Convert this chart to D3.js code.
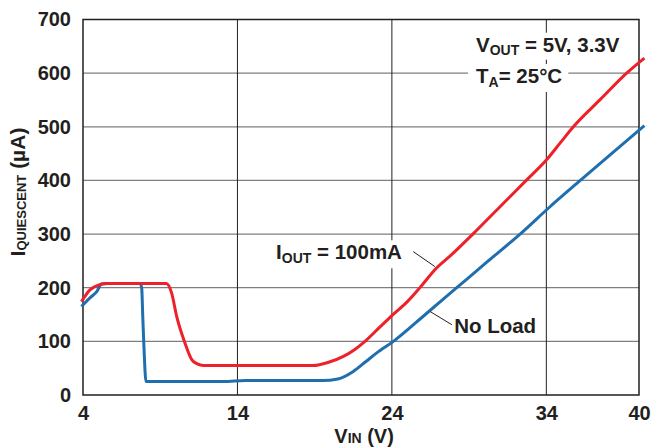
<!DOCTYPE html>
<meta charset="utf-8">
<head>
<title>Quiescent current vs VIN</title>
</head>
<style>
body { margin: 0; background: #fff; }
text { font-family: Arial, "Liberation Sans", sans-serif; font-weight: bold; fill: #231f20; }
.hgrid line { stroke: #7f7f7f; stroke-width: 1.2; }
.vgrid line { stroke: #231f20; stroke-width: 1; }
.frame { fill: none; stroke: #231f20; stroke-width: 1.5; }
.curve { fill: none; stroke-width: 3; stroke-linejoin: round; }
.leader { stroke: #231f20; stroke-width: 1; }
</style>
<body>
<svg id="chart"></svg>
<script src="https://cdnjs.cloudflare.com/ajax/libs/d3/7.8.5/d3.min.js"></script>
<script>
const width = 652, height = 447;
const margin = {top: 19.5, right: 13, bottom: 52, left: 83};

// x ticks and y ticks as printed
var xTicks = [4, 14, 24, 34, 40];
var yTicks = [0, 100, 200, 300, 400, 500, 600, 700];

// I_OUT = 100mA curve  [VIN, uA]
var load100 = [
	[3.9,174],[4.45,196],[5.1,206],[5.5,208],[9.4,208],[9.74,190],[10.07,146],
	[10.6,97],[11.04,66],[11.4,58],[11.8,55],[18.9,55],[19.9,61],[20.86,72],
	[21.6,85],[22.26,100],[23.2,126],[24.0,148],[25.0,174],[25.87,202],[26.8,234],
	[27.88,262],[29.24,300],[31.0,351],[32.7,400],[34.0,438],[34.9,470],
	[35.75,500],[37.5,551],[39.2,600],[40.35,628]
];
// no load curve
var noLoad = [
	[3.9,165],[4.45,181],[4.9,193],[5.2,207],[5.6,208],[7.69,208],[7.8,200],
	[7.87,146],[7.95,87],[8.08,25],[13.1,25],[14.5,27],[19.5,27],[20.5,30],
	[21.5,44],[22.3,62],[23.0,78],[24.1,100],[26.2,151],[28.2,200],[30.2,249],
	[32.3,300],[34.2,350],[36.2,400],[38.3,452],[40.35,502]
];

var svg = d3.select("#chart").attr("width", width).attr("height", height);

var x = d3.scaleLinear().domain([4, 40]).range([margin.left, width - margin.right]);
var y = d3.scaleLinear().domain([0, 700]).range([height - margin.bottom, margin.top]);

//////////////////////////////////////////////////
// Grid
//////////////////////////////////////////////////
svg.append("g").attr("class", "hgrid")
	.selectAll("line").data(yTicks.slice(1, -1)).enter()
	.append("line")
	.attr("x1", x(4)).attr("x2", x(40))
	.attr("y1", d => y(d)).attr("y2", d => y(d));

svg.append("g").attr("class", "vgrid")
	.selectAll("line").data(xTicks.slice(1, -1)).enter()
	.append("line")
	.attr("x1", d => x(d)).attr("x2", d => x(d))
	.attr("y1", y(0)).attr("y2", y(700));

svg.append("rect").attr("class", "frame")
	.attr("x", x(4)).attr("y", y(700))
	.attr("width", x(40) - x(4)).attr("height", y(0) - y(700));

//////////////////////////////////////////////////
// Axes labels
//////////////////////////////////////////////////
var yAxis = d3.axisLeft(y).tickValues(yTicks).tickSize(0).tickPadding(12);
svg.append("g").attr("transform", "translate(" + x(4) + ",0)").call(yAxis)
	.call(g => g.select(".domain").remove())
	.selectAll("text").attr("font-size", 20).attr("font-family", null).attr("fill", null);

var xAxis = d3.axisBottom(x).tickValues(xTicks).tickSize(0).tickPadding(11);
svg.append("g").attr("transform", "translate(0," + y(0) + ")").call(xAxis)
	.call(g => g.select(".domain").remove())
	.selectAll("text").attr("font-size", 20).attr("font-family", null).attr("fill", null);

// x title
var xt = svg.append("text").attr("text-anchor", "middle")
	.attr("x", x(22.2)).attr("y", height - 4).attr("font-size", 20);
xt.append("tspan").text("V");
xt.append("tspan").attr("font-size", 14).text("IN");
xt.append("tspan").text(" (V)");

// y title
var yt = svg.append("text").attr("text-anchor", "middle")
	.attr("transform", "translate(25," + 192 + ") rotate(-90)").attr("font-size", 21);
yt.append("tspan").text("I");
yt.append("tspan").attr("font-size", 13).attr("dy", 1).text("QUIESCENT");
yt.append("tspan").attr("dy", -1).text(" (µA)");

//////////////////////////////////////////////////
// Curves
//////////////////////////////////////////////////
var line = d3.line().x(d => x(d[0])).y(d => y(d[1])).curve(d3.curveMonotoneX);

svg.append("path").attr("class", "curve").attr("stroke", "#1f6fae").attr("d", line(noLoad));
svg.append("path").attr("class", "curve").attr("stroke", "#ee2029").attr("d", line(load100));

//////////////////////////////////////////////////
// Annotations
//////////////////////////////////////////////////
function label(vx, vy, parts) {
	var t = svg.append("text").attr("x", x(vx)).attr("y", y(vy)).attr("font-size", 20.5);
	parts.forEach(function(p) {
		var s = t.append("tspan").text(p[0]);
		if (p[1]) s.attr("font-size", 14).attr("dy", p[1]);
		if (p[2]) s.attr("dy", p[2]);
	});
	var b = t.node().getBBox();
	svg.insert("rect", "path")
		.attr("x", b.x - 8).attr("y", b.y).attr("width", b.width + 14).attr("height", b.height + 2)
		.attr("fill", "#fff");
	return t;
}

label(29.45, 640, [["V"], ["OUT", 3], [" = 5V, 3.3V", 0, -3]]);
label(29.45, 581.6, [["T"], ["A", 4], ["= 25°C", 0, -4]]);
label(16.5, 253, [["I"], ["OUT", 4], [" = 100mA", 0, -4]]);
svg.append("text").attr("x", x(28.03)).attr("y", y(115.5)).attr("font-size", 20.5).text("No Load");

// leader lines
var leaders = [
	[[25.38, 267.4], [26.78, 239.5]],
	[[26.47, 155.7], [27.88, 131]]
];
svg.selectAll(".leader").data(leaders).enter()
	.append("line").attr("class", "leader")
	.attr("x1", d => x(d[0][0])).attr("y1", d => y(d[0][1]))
	.attr("x2", d => x(d[1][0])).attr("y2", d => y(d[1][1]));
</script>
</body>
